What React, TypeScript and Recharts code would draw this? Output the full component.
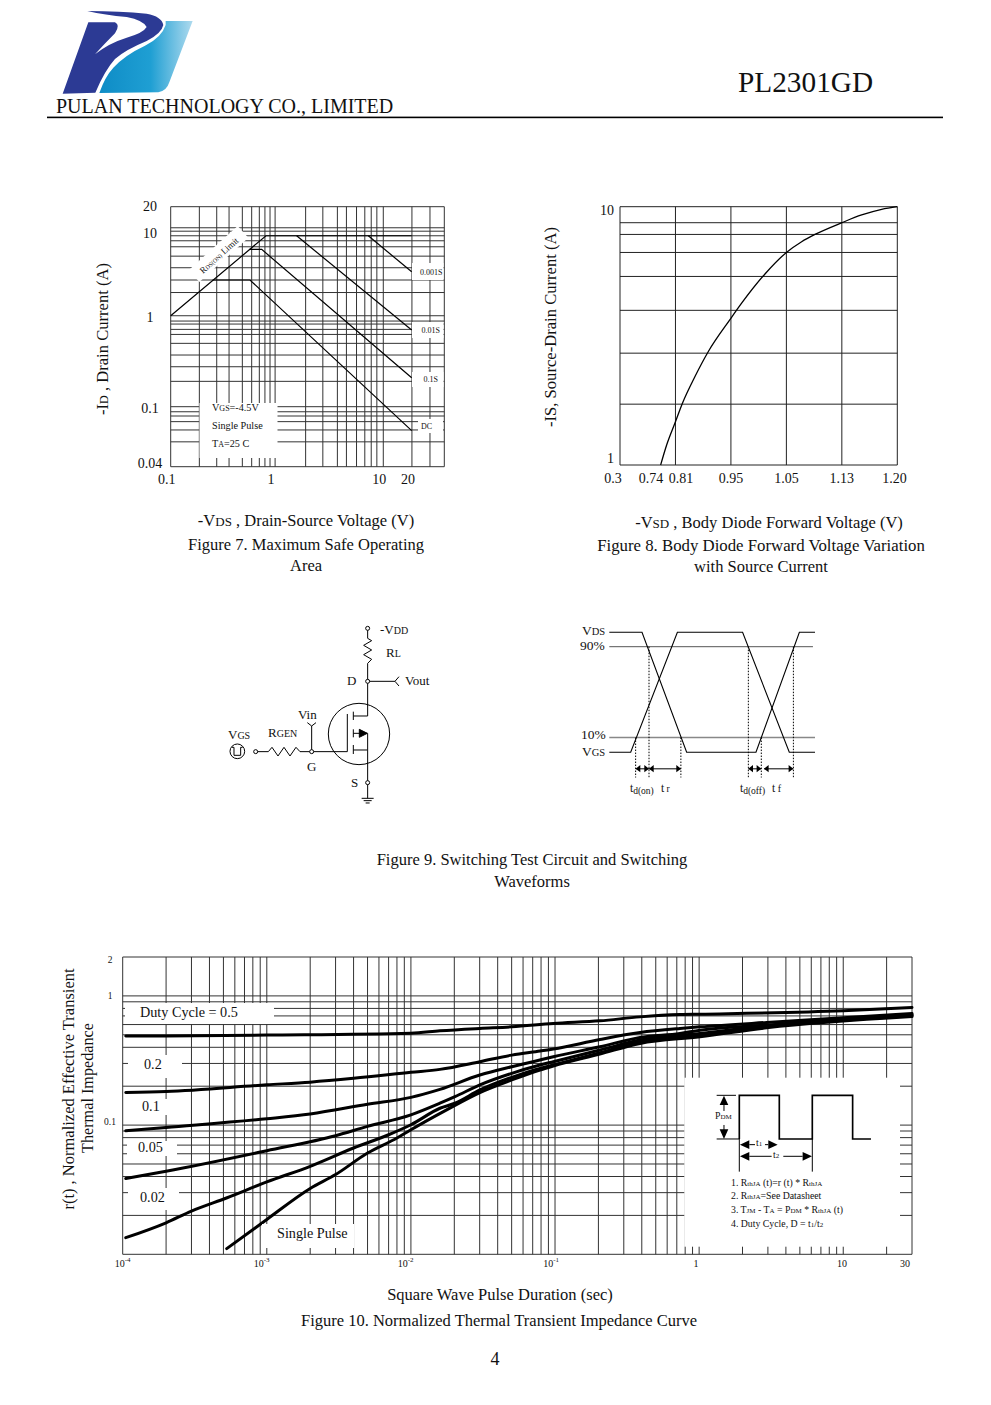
import React from 'react';
import { LineChart, Line, XAxis, YAxis, ReferenceLine } from 'recharts';

const SERIF = '"Liberation Serif", "Times New Roman", serif';
const INK = '#111';

// Figure 7 - safe operating area
const soaGridX = [0.1, 0.186, 0.271, 0.354, 0.472, 0.578, 0.682, 0.77, 0.86, 0.96, 1.86, 2.7, 3.7, 4.5, 5.6, 6.7, 7.7, 8.7, 10, 18.6, 27.5, 37.5];
const soaGridY = [15.8, 9.27, 8.5, 7.57, 6.67, 5.73, 4.52, 3.37, 2.47, 1.8, 1, 0.874, 0.81, 0.708, 0.623, 0.497, 0.37, 0.275, 0.19, 0.1, 0.088, 0.079, 0.0685, 0.0555, 0.0411, 0.0219];
const soaTicksX = [0.1, 0.96, 10, 18.6];
const soaLabelsX = ['0.1', '1', '10', '20'];
const soaTicksY = [15.8, 8.1, 0.968, 0.0944, 0.024];
const soaLabelsY = ['20', '10', '1', '0.1', '0.04'];
const limitV = [0.1, 0.788, 18.5];
const limitI = [1, 7.57, 7.57];
const ms1V = [7.23, 18.5];
const ms1I = [7.57, 3.04];
const ms10V = [1.53, 18.5];
const ms10I = [7.57, 0.696];
const ms100V = [0.55, 0.718, 18.5];
const ms100I = [5.36, 5.36, 0.208];
const dcV = [0.248, 0.557, 18.5];
const dcI = [2.47, 2.47, 0.0545];

// Figure 8 - body diode, the x axis is an even grid with uneven labels
const diodeGridX = [0, 1, 2, 3, 4, 5];
const diodeGridY = [10, 8.67, 7.81, 6.65, 5.37, 3.97, 2.71, 1.72, 1];
const diodeTicksX = [0, 0.56, 1.1, 2, 3, 4, 4.95];
const diodeLabelsX = ['0.3', '0.74', '0.81', '0.95', '1.05', '1.13', '1.20'];
const diodeTicksY = [9.7, 1.055];
const diodeLabelsY = ['10', '1'];
const diodeX = [0.733, 0.841, 1, 1.124, 1.352, 1.593, 1.989, 2.193, 2.614, 3, 3.275, 3.516, 4, 4.357, 4.718, 5];
const diodeI = [1, 1.195, 1.47, 1.73, 2.2, 2.75, 3.67, 4.23, 5.49, 6.65, 7.32, 7.81, 8.67, 9.29, 9.77, 10];

// Figure 9 - switching waveforms
const vdsT = [0, 15.9, 37.6, 71.3, 92.4, 100];
const vdsL = [100, 100, 0, 0, 100, 100];
const vgsT = [0, 10.4, 33.1, 64.8, 87.5, 100];
const vgsL = [0, 0, 100, 100, 0, 0];
const markerT = [12.8, 19.3, 34.8, 67.6, 73.9, 89.5];
const markerL = [12.3, 88, 12.3, 88, 12.3, 88];

// Figure 10 - thermal impedance
const thermalGridX = [
  1e-4, 2e-4, 3e-4, 4e-4, 5e-4, 6e-4, 7e-4, 8e-4, 9e-4,
  1e-3, 2e-3, 3e-3, 4e-3, 5e-3, 6e-3, 7e-3, 8e-3, 9e-3,
  1e-2, 2e-2, 3e-2, 4e-2, 5e-2, 6e-2, 7e-2, 8e-2, 9e-2,
  0.1, 0.2, 0.3, 0.4, 0.5, 0.6, 0.7, 0.8, 0.9,
  1, 2, 3, 4, 5, 6, 7, 8, 9, 10, 20, 30,
];
const thermalGridY = [2, 1, 0.9, 0.8, 0.7, 0.6, 0.5, 0.4, 0.3, 0.2, 0.1, 0.09, 0.08, 0.07, 0.06, 0.05, 0.04, 0.03, 0.02, 0.01];
const thermalTicksX = [1e-4, 9.2e-4, 9.2e-3, 9.4e-2, 0.95, 9.8, 26.8];
const thermalBaseX = ['10', '10', '10', '10', '1', '10', '30'];
const thermalExpX = ['-4', '-3', '-2', '-1', '', '', ''];
const thermalTicksY = [1.9, 1, 0.105];
const thermalLabelsY = ['2', '1', '0.1'];
const d50T = [1.05e-4, 2e-4, 1e-3, 1e-2, 0.0159, 0.0301, 0.0501, 0.0973, 0.205, 0.389, 0.736, 1.014, 10, 30];
const d50R = [0.489, 0.49, 0.498, 0.515, 0.537, 0.56, 0.576, 0.6115, 0.641, 0.688, 0.7175, 0.722, 0.766, 0.813];
const d20T = [1.05e-4, 2e-4, 1e-3, 2e-3, 4e-3, 1e-2, 0.0159, 0.0301, 0.0501, 0.0787, 0.0973, 0.205, 0.389, 0.736, 1.014, 2.94, 10, 30];
const d20R = [0.179, 0.182, 0.205, 0.215, 0.23, 0.256, 0.27, 0.3095, 0.348, 0.374, 0.3875, 0.46, 0.521, 0.56, 0.576, 0.623, 0.677, 0.731];
const d10T = [1.05e-4, 2e-4, 1e-3, 2e-3, 5e-3, 1e-2, 0.0159, 0.0301, 0.0501, 0.0703, 0.0973, 0.205, 0.389, 0.736, 1.014, 2.94, 10, 30];
const d10R = [0.0904, 0.096, 0.112, 0.122, 0.145, 0.164, 0.189, 0.244, 0.283, 0.3095, 0.338, 0.404, 0.477, 0.512, 0.543, 0.594, 0.66, 0.718];
const d05T = [1.05e-4, 2e-4, 1e-3, 3e-3, 5e-3, 1e-2, 0.0159, 0.0202, 0.0301, 0.0501, 0.0787, 0.0973, 0.205, 0.389, 1.014, 2.94, 30];
const d05R = [0.0386, 0.0439, 0.0634, 0.0828, 0.0977, 0.12, 0.1477, 0.166, 0.2047, 0.2517, 0.2917, 0.3095, 0.381, 0.455, 0.512, 0.587, 0.709];
const d02T = [1.05e-4, 2e-4, 3e-4, 5.3e-4, 1e-3, 2e-3, 4e-3, 7e-3, 1e-2, 0.0159, 0.0202, 0.0301, 0.0501, 0.0787, 0.0973, 0.205, 0.389, 1.014, 2.94, 30];
const d02R = [0.01345, 0.01754, 0.0216, 0.0274, 0.0363, 0.048, 0.0665, 0.0842, 0.1006, 0.135, 0.1477, 0.187, 0.2344, 0.275, 0.2917, 0.363, 0.4416, 0.497, 0.577, 0.7015];
const singleT = [5.27e-4, 1e-3, 2e-3, 3e-3, 5e-3, 8e-3, 1e-2, 0.0177, 0.0301, 0.0501, 0.0787, 0.0973, 0.205, 0.389, 1.014, 2.94, 30];
const singleR = [0.01106, 0.0186, 0.0323, 0.0414, 0.0608, 0.0794, 0.092, 0.1312, 0.1786, 0.2236, 0.267, 0.2866, 0.3548, 0.4285, 0.4826, 0.566, 0.692];

const zip = (xs: number[], ys: number[]) => xs.map((x, i) => ({ x, y: ys[i] }));

const soaSeries = [zip(limitV, limitI), zip(ms1V, ms1I), zip(ms10V, ms10I), zip(ms100V, ms100I), zip(dcV, dcI)];
const thermalSeries = [zip(d50T, d50R), zip(d20T, d20R), zip(d10T, d10R), zip(d05T, d05R), zip(d02T, d02R), zip(singleT, singleR)];

function gridLines(xs: number[], ys: number[], stroke = '#333') {
  return [
    ...xs.map(v => <ReferenceLine key={`gx${v}`} x={v} stroke={stroke} strokeWidth={1} ifOverflow="extendDomain" />),
    ...ys.map(v => <ReferenceLine key={`gy${v}`} y={v} stroke={stroke} strokeWidth={1} ifOverflow="extendDomain" />),
  ];
}

const tickText = (x: number, y: number, text: string, size: number, anchor = 'middle') => (
  <text x={x} y={y} fontFamily={SERIF} fontSize={size} fill={INK} textAnchor={anchor} dominantBaseline="central">{text}</text>
);

function SoaChart() {
  return (
    <LineChart width={330} height={295} margin={{ top: 11.7, left: 39.7, right: 15.7, bottom: 22.3 }}>
      <XAxis
        type="number" dataKey="x" scale="log" domain={[0.1, 37.5]} ticks={soaTicksX} interval={0} height={1}
        axisLine={false} tickLine={false}
        tick={(p: any) => tickText(p.x - 4, 284, soaLabelsX[soaTicksX.indexOf(p.payload.value)], 14)}
      />
      <YAxis
        type="number" dataKey="y" scale="log" domain={[0.0219, 15.8]} ticks={soaTicksY} interval={0} width={1}
        axisLine={false} tickLine={false}
        tick={(p: any) => tickText(20, p.y, soaLabelsY[soaTicksY.indexOf(p.payload.value)], 14)}
      />
      {gridLines(soaGridX, soaGridY)}
      {soaSeries.map((d, i) => (
        <Line key={i} data={d} dataKey="y" stroke="#000" strokeWidth={1.2} dot={false} isAnimationActive={false} />
      ))}
    </LineChart>
  );
}

function DiodeChart() {
  return (
    <LineChart width={320} height={295} margin={{ top: 11.7, left: 24, right: 17.7, bottom: 24 }}>
      <XAxis
        type="number" dataKey="x" domain={[0, 5]} ticks={diodeTicksX} interval={0} height={1}
        axisLine={false} tickLine={false}
        tick={(p: any) => tickText(p.x - (p.payload.value === 0 ? 7 : 0), 283, diodeLabelsX[diodeTicksX.indexOf(p.payload.value)], 14)}
      />
      <YAxis
        type="number" dataKey="y" scale="log" domain={[1, 10]} ticks={diodeTicksY} interval={0} width={1}
        axisLine={false} tickLine={false}
        tick={(p: any) => tickText(19, p.y, diodeLabelsY[diodeTicksY.indexOf(p.payload.value)], 14, 'end')}
      />
      {gridLines(diodeGridX, diodeGridY, '#222')}
      <Line data={zip(diodeX, diodeI)} dataKey="y" type="monotone" stroke="#000" strokeWidth={1.3} dot={false} isAnimationActive={false} />
    </LineChart>
  );
}

function WaveChart() {
  return (
    <LineChart width={225} height={170} margin={{ top: 6.3, left: 9.3, right: 10, bottom: 11.3 }}>
      <XAxis type="number" dataKey="x" domain={[0, 100]} hide />
      <YAxis type="number" dataKey="y" domain={[-22, 105]} hide />
      <Line data={zip([0, 99], [88, 88])} dataKey="y" stroke="#555" strokeWidth={1} dot={false} isAnimationActive={false} />
      <Line data={zip([0, 100], [12.3, 12.3])} dataKey="y" stroke="#888" strokeWidth={1.6} dot={false} isAnimationActive={false} />
      <Line data={zip(vdsT, vdsL)} dataKey="y" stroke="#000" strokeWidth={1.1} dot={false} isAnimationActive={false} />
      <Line data={zip(vgsT, vgsL)} dataKey="y" stroke="#000" strokeWidth={1.1} dot={false} isAnimationActive={false} />
      {markerT.map((t, i) => (
        <Line key={t} data={zip([t, t], [markerL[i], -21])} dataKey="y" stroke="#000" strokeWidth={1} strokeDasharray="1.5 1.5" dot={false} isAnimationActive={false} />
      ))}
    </LineChart>
  );
}

function ThermalChart() {
  return (
    <LineChart width={825} height={330} margin={{ top: 12, left: 21.7, right: 13, bottom: 19.7 }}>
      <XAxis
        type="number" dataKey="x" scale="log" domain={[1e-4, 30]} ticks={thermalTicksX} interval={0} height={1}
        axisLine={false} tickLine={false}
        tick={(p: any) => {
          const i = thermalTicksX.indexOf(p.payload.value);
          return (
            <text x={p.x} y={318} fontFamily={SERIF} fontSize={10} fill={INK} textAnchor="middle" dominantBaseline="central">
              {thermalBaseX[i]}
              {thermalExpX[i] && <tspan fontSize={7} dy={-3}>{thermalExpX[i]}</tspan>}
            </text>
          );
        }}
      />
      <YAxis
        type="number" dataKey="y" scale="log" domain={[0.01, 2]} ticks={thermalTicksY} interval={0} width={1}
        axisLine={false} tickLine={false}
        tick={(p: any) => tickText(10, p.y, thermalLabelsY[thermalTicksY.indexOf(p.payload.value)], 9.5)}
      />
      {gridLines(thermalGridX, thermalGridY)}
      {thermalSeries.map((d, i) => (
        <Line key={i} data={d} dataKey="y" type="monotone" stroke="#000" strokeWidth={3} strokeLinecap="round" dot={false} isAnimationActive={false} />
      ))}
    </LineChart>
  );
}

const at = (x: number, y: number): React.CSSProperties => ({ position: 'absolute', left: x, top: y });

function Logo() {
  return (
    <g transform="translate(50 5) scale(0.3333)">
      <defs>
        <linearGradient id="logoFade" x1="0" y1="0" x2="1" y2="0">
          <stop offset="0" stopColor="#0e8cc6" />
          <stop offset="0.55" stopColor="#1f9fd3" />
          <stop offset="1" stopColor="#aedaee" />
        </linearGradient>
      </defs>
      <path d="M347 48 L428 48 L358 232 Q350 258 325 262 L148 264 Q165 215 190 188 Q225 150 285 122 Q335 98 347 60 Z" fill="url(#logoFade)" />
      <path d="M112 18 Q210 18 290 26 Q335 34 340 60 Q335 85 290 108 Q225 135 195 162 Q165 195 136 263 L38 266 L115 52 L195 52 Q212 60 195 85 Q165 115 135 148 Q175 115 230 98 Q280 84 290 66 Q280 46 230 36 Q165 30 112 18 Z" fill="#2c3a94" />
    </g>
  );
}

function Circuit() {
  return (
    <g transform="translate(210 610) scale(0.3333)" fill="none" stroke="#000" strokeWidth={3}>
      <circle cx={473} cy={55} r={6} />
      <polyline points="473,61 473,85 485,92 461,106 485,120 461,134 485,148 473,160 473,208" />
      <circle cx={473} cy={214} r={6} />
      <polyline points="479,214 555,214" />
      <polyline points="567,200 555,214 567,228" />
      <polyline points="473,220 473,318 430,318" />
      <polyline points="430,305 430,330" />
      <polyline points="430,358 430,382" />
      <polyline points="430,405 430,432" />
      <polyline points="430,370 472,370" />
      <polyline points="430,420 472,420" />
      <polyline points="473,370 473,512" />
      <path d="M472 370 L448 358 L448 382 Z" fill="#000" />
      <circle cx={447} cy={372} r={92} />
      <polyline points="311,425 412,425 412,312" />
      <circle cx={305} cy={425} r={6} />
      <polyline points="305,419 305,348" />
      <polyline points="292,338 305,348 318,338" />
      <polyline points="299,425 270,425 258,412 240,438 222,412 204,438 186,412 175,425 143,425" />
      <circle cx={137} cy={425} r={6} />
      <circle cx={82} cy={424} r={22} />
      <polyline points="66,412 72,412 72,436 92,436 92,412 98,412" />
      <circle cx={473} cy={518} r={6} />
      <polyline points="473,524 473,565" />
      <polyline points="455,565 491,565" />
      <polyline points="461,572 485,572" />
      <polyline points="467,579 479,579" />
    </g>
  );
}

function CircuitText() {
  const s = { fontFamily: SERIF, fill: INK };
  return (
    <g {...s} fontSize={13}>
      <text x={380} y={634}>-V<tspan fontSize={10}>DD</tspan></text>
      <text x={386} y={657}>R<tspan fontSize={10}>L</tspan></text>
      <text x={347} y={685}>D</text>
      <text x={405} y={685}>Vout</text>
      <text x={298} y={719}>Vin</text>
      <text x={228} y={739}>V<tspan fontSize={10}>GS</tspan></text>
      <text x={268} y={737}>R<tspan fontSize={10}>GEN</tspan></text>
      <text x={307} y={771}>G</text>
      <text x={351} y={787}>S</text>
    </g>
  );
}

function Arrow({ tip, dir, y }: { tip: number; dir: 1 | -1; y: number }) {
  return <path d={`M${tip} ${y} L${tip + dir * 14} ${y - 11} L${tip + dir * 14} ${y + 11} Z`} fill="#000" />;
}

function WaveMarks() {
  return (
    <g transform="translate(570 610) scale(0.3333)" stroke="none">
      <Arrow tip={197} dir={1} y={476} />
      <Arrow tip={237} dir={-1} y={476} />
      <Arrow tip={237} dir={1} y={476} />
      <Arrow tip={333} dir={-1} y={476} />
      <Arrow tip={535} dir={1} y={476} />
      <Arrow tip={574} dir={-1} y={476} />
      <Arrow tip={582} dir={1} y={476} />
      <Arrow tip={670} dir={-1} y={476} />
      <rect x={197} y={475} width={40} height={3} fill="#000" />
      <rect x={237} y={475} width={96} height={3} fill="#000" />
      <rect x={535} y={475} width={39} height={3} fill="#000" />
      <rect x={582} y={475} width={88} height={3} fill="#000" />
    </g>
  );
}

function WaveText() {
  return (
    <g fontFamily={SERIF} fill={INK} fontSize={13.5}>
      <text x={582} y={635}>V<tspan fontSize={10.5}>DS</tspan></text>
      <text x={580} y={650}>90%</text>
      <text x={581} y={739}>10%</text>
      <text x={582} y={756}>V<tspan fontSize={10.5}>GS</tspan></text>
      <g fontSize={11.5}>
        <text x={630} y={792}>t<tspan fontSize={9.5} dy={2}>d(on)</tspan></text>
        <text x={661} y={792}>t<tspan fontSize={9.5}> r</tspan></text>
        <text x={740} y={792}>t<tspan fontSize={9.5} dy={2}>d(off)</tspan></text>
        <text x={772} y={792}>t<tspan fontSize={10}> f</tspan></text>
      </g>
    </g>
  );
}

function Inset() {
  return (
    <g transform="translate(500 945) scale(0.3333)">
      <g fill="none" stroke="#000">
        <polyline points="718,582 718,451 838,451 838,582 937,582 937,451 1058,451 1058,582 1113,582" strokeWidth={5} />
        <polyline points="650,582 718,582" strokeWidth={3} />
        <polyline points="650,451 708,451" strokeWidth={3} />
        <polyline points="672,478 672,498" strokeWidth={3} />
        <polyline points="672,540 672,555" strokeWidth={3} />
        <polyline points="718,582 718,680" strokeWidth={3} />
        <polyline points="937,582 937,680" strokeWidth={3} />
        <polyline points="748,599 765,599" strokeWidth={3} />
        <polyline points="795,599 805,599" strokeWidth={3} />
        <polyline points="748,634 815,634" strokeWidth={3} />
        <polyline points="850,634 908,634" strokeWidth={3} />
      </g>
      <path d="M672 452 L659 480 L685 480 Z M672 582 L659 553 L685 553 Z" fill="#000" />
      <path d="M720 599 L748 586 L748 612 Z M833 599 L805 586 L805 612 Z" fill="#000" />
      <path d="M720 634 L748 621 L748 647 Z M936 634 L908 621 L908 647 Z" fill="#000" />
    </g>
  );
}

function InsetText() {
  const small = 7;
  return (
    <g fontFamily={SERIF} fill={INK} fontSize={9.8}>
      <text x={715} y={1119}>P<tspan fontSize={small}>DM</tspan></text>
      <text x={756} y={1146}>t<tspan fontSize={small}>1</tspan></text>
      <text x={773} y={1158}>t<tspan fontSize={small}>2</tspan></text>
      <text x={731} y={1186}>1. R<tspan fontSize={small}>thJA</tspan> (t)=r (t) * R<tspan fontSize={small}>thJA</tspan></text>
      <text x={731} y={1199}>2. R<tspan fontSize={small}>thJA</tspan>=See Datasheet</text>
      <text x={731} y={1213}>3. T<tspan fontSize={small}>JM</tspan> - T<tspan fontSize={small}>A</tspan> = P<tspan fontSize={small}>DM</tspan> * R<tspan fontSize={small}>thJA</tspan> (t)</text>
      <text x={731} y={1227}>4. Duty Cycle, D = t<tspan fontSize={small}>1</tspan>/t<tspan fontSize={small}>2</tspan></text>
    </g>
  );
}

function Masks() {
  return (
    <g fill="#fff">
      {/* Figure 7 label boxes */}
      <rect x={199.5} y={403} width={78} height={55} />
      <rect x={412} y={263} width={31.5} height={17} />
      <rect x={412} y={322} width={31.5} height={16} />
      <rect x={412} y={372} width={31.5} height={15} />
      <rect x={418} y={419} width={25} height={14} />
      <rect x={-33} y={-8} width={66} height={16} transform="translate(218.5 254) rotate(-42)" />
      {/* Figure 10 label boxes */}
      <rect x={125} y={1003} width={149} height={21} />
      <rect x={128} y={1055} width={54} height={23} />
      <rect x={128} y={1099} width={40} height={16} />
      <rect x={127} y={1141} width={50} height={15} />
      <rect x={128} y={1188} width={51} height={22} />
      <rect x={262} y={1224} width={92} height={24} />
      <rect x={684.3} y={1077.7} width={215.7} height={169} />
    </g>
  );
}

function PageText() {
  const sub = 13;
  return (
    <g fontFamily={SERIF} fill={INK}>
      <text x={56} y={113} fontSize={20}>PULAN TECHNOLOGY CO., LIMITED</text>
      <text x={738} y={92} fontSize={29.3}>PL2301GD</text>
      <text x={495} y={1365} fontSize={18} textAnchor="middle">4</text>

      {/* Figure 7 */}
      <g fontSize={10.2}>
        <text x={212} y={411}>V<tspan fontSize={8}>GS</tspan>=-4.5V</text>
        <text x={212} y={429}>Single Pulse</text>
        <text x={212} y={447}>T<tspan fontSize={8}>A</tspan>=25 C</text>
      </g>
      <g fontSize={8}>
        <text x={420} y={275}>0.001S</text>
        <text x={421.5} y={333}>0.01S</text>
        <text x={423.5} y={382}>0.1S</text>
        <text x={421} y={429}>DC</text>
      </g>
      <text transform="translate(203 274) rotate(-42)" fontSize={9}>R<tspan fontSize={6}>DS(ON)</tspan> Limit</text>
      <text transform="translate(108 339) rotate(-90)" fontSize={16.6} textAnchor="middle">-I<tspan fontSize={12}>D</tspan> , Drain Current (A)</text>
      <g fontSize={16.5} textAnchor="middle">
        <text x={306} y={526}>-V<tspan fontSize={sub}>DS</tspan> , Drain-Source Voltage (V)</text>
        <text x={306} y={550}>Figure 7. Maximum Safe Operating</text>
        <text x={306} y={571}>Area</text>
        <text x={769} y={528}>-V<tspan fontSize={sub}>SD</tspan> , Body Diode Forward Voltage (V)</text>
        <text x={761} y={551} fontSize={16.8}>Figure 8. Body Diode Forward Voltage Variation</text>
        <text x={761} y={572}>with Source Current</text>
        <text x={532} y={865}>Figure 9. Switching Test Circuit and Switching</text>
        <text x={532} y={887}>Waveforms</text>
        <text x={500} y={1300}>Square Wave Pulse Duration (sec)</text>
        <text x={499} y={1326}>Figure 10. Normalized Thermal Transient Impedance Curve</text>
      </g>
      <text transform="translate(556 327) rotate(-90)" fontSize={16.6} textAnchor="middle">-IS, Source-Drain Current (A)</text>

      {/* Figure 10 */}
      <text transform="translate(74 1089) rotate(-90)" fontSize={16.5} textAnchor="middle">r(t) , Normalized Effective Transient</text>
      <text transform="translate(93 1088) rotate(-90)" fontSize={16.2} textAnchor="middle">Thermal Impedance</text>
      <g fontSize={14.2}>
        <text x={140} y={1017}>Duty Cycle = 0.5</text>
        <text x={144} y={1069}>0.2</text>
        <text x={142} y={1111}>0.1</text>
        <text x={138} y={1152}>0.05</text>
        <text x={140} y={1202}>0.02</text>
        <text x={277} y={1238}>Single Pulse</text>
      </g>
    </g>
  );
}

export default function App() {
  return (
    <div style={{ position: 'absolute', left: 0, top: 0, width: 991, height: 1405, background: '#fff', overflow: 'hidden' }}>
      <div style={at(130, 195)}><SoaChart /></div>
      <div style={at(595, 195)}><DiodeChart /></div>
      <div style={at(600, 620)}><WaveChart /></div>
      <div style={at(100, 945)}><ThermalChart /></div>
      <svg width={991} height={1405} style={{ ...at(0, 0), pointerEvents: 'none' }}>
        <Masks />
        <Logo />
        <rect x={47} y={116.6} width={896} height={1.6} fill="#000" />
        <Circuit />
        <CircuitText />
        <WaveMarks />
        <WaveText />
        <Inset />
        <InsetText />
        <PageText />
      </svg>
    </div>
  );
}
